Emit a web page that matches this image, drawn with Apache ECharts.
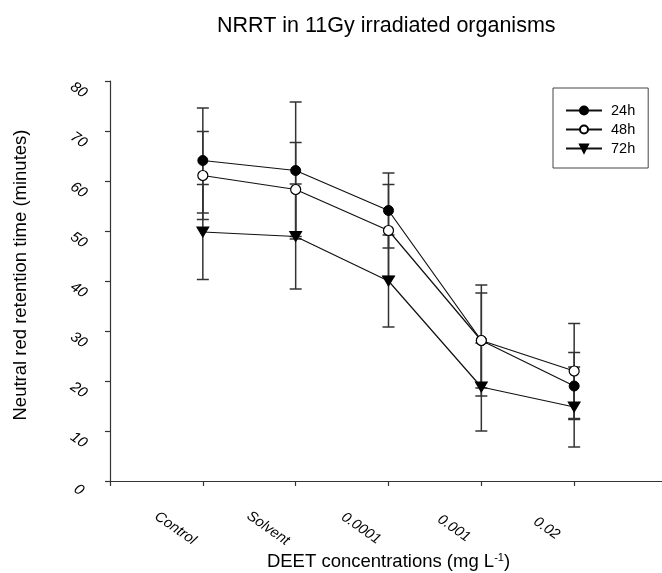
<!DOCTYPE html>
<html>
<head>
<meta charset="utf-8">
<script src="https://cdn.jsdelivr.net/npm/echarts@6/dist/echarts.min.js"></script>
<style>html,body{margin:0;padding:0;background:#fff}#c{width:662px;height:573px}</style>
</head>
<body>
<div id="c"></div>
<script>
const categories = ['Control', 'Solvent', '0.0001', '0.001', '0.02'];
const seriesNames = ['24h', '48h', '72h'];
const mean24 = [64.1, 62.1, 54.1, 28.1, 19.0];
const err24  = [10.5, 13.7, 7.5, 11.1, 6.7];
const mean48 = [61.1, 58.3, 50.1, 28.1, 22.0];
const err48  = [8.8, 9.4, 9.2, 9.5, 9.5];
const mean72 = [49.8, 48.9, 40.0, 18.8, 14.8];
const err72  = [9.5, 10.5, 9.2, 8.8, 8.0];
const yTicks = [0, 10, 20, 30, 40, 50, 60, 70, 80];

const FONT = 'Liberation Sans, Arial, sans-serif';
const AX = '#333';

function pts(means) { return means.map((v, i) => [i + 1, v]); }
function bars(means, errs) { return means.map((v, i) => [i + 1, v, errs[i]]); }

function errRender(params, api) {
  const x = api.value(0), m = api.value(1), e = api.value(2);
  const top = api.coord([x, m + e]);
  const bot = api.coord([x, m - e]);
  const hw = 6;
  const st = { stroke: AX, lineWidth: 1.5 };
  return {
    type: 'group',
    children: [
      { type: 'line', shape: { x1: top[0], y1: top[1], x2: bot[0], y2: bot[1] }, style: st },
      { type: 'line', shape: { x1: top[0] - hw, y1: top[1], x2: top[0] + hw, y2: top[1] }, style: st },
      { type: 'line', shape: { x1: bot[0] - hw, y1: bot[1], x2: bot[0] + hw, y2: bot[1] }, style: st }
    ]
  };
}

const chart = echarts.init(document.getElementById('c'), null, { renderer: 'canvas' });
const lineCommon = { type: 'line', z: 5, lineStyle: { color: '#111', width: 1.2 }, emphasis: { disabled: true } };

chart.setOption({
  animation: false,
  backgroundColor: '#fff',
  title: {
    text: 'NRRT in 11Gy irradiated organisms',
    left: 212, top: 10,
    textStyle: { fontFamily: FONT, fontSize: 21.5, fontWeight: 'normal', color: '#000' }
  },
  legend: {
    data: seriesNames,
    orient: 'vertical',
    left: 553, top: 88,
    borderColor: '#444', borderWidth: 1,
    padding: [15, 13, 12, 12],
    itemWidth: 36, itemHeight: 10, itemGap: 4,
    textStyle: { fontFamily: FONT, fontSize: 14.5, color: '#000', padding: [0, 0, 0, 4] }
  },
  grid: { left: 110, right: -5, top: 81, bottom: 92, containLabel: false, outerBoundsMode: 'none' },
  xAxis: {
    type: 'value', min: 0, max: 6, interval: 1,
    splitLine: { show: false },
    axisLine: { lineStyle: { color: AX, width: 1.2 } },
    axisTick: { inside: false, length: 5, lineStyle: { color: AX, width: 1.2 } },
    axisLabel: {
      formatter: v => (v >= 1 && v <= categories.length && Number.isInteger(v)) ? categories[v - 1] : '',
      rotate: -35, align: 'center', verticalAlign: 'top', margin: 8, lineHeight: 96,
      fontFamily: FONT, fontSize: 14.5, fontStyle: 'italic', color: '#000'
    },
    name: 'DEET concentrations (mg L{sup|-1})',
    nameLocation: 'middle', nameGap: 71, nameMoveOverlap: false,
    nameTextStyle: {
      fontFamily: FONT, fontSize: 18.5, color: '#000',
      rich: { sup: { fontFamily: FONT, fontSize: 11, verticalAlign: 'top', padding: [0, 0, 8, 0], color: '#000' } }
    }
  },
  yAxis: {
    type: 'value', min: yTicks[0], max: yTicks[yTicks.length - 1], interval: 10,
    splitLine: { show: false },
    axisLine: { show: true, lineStyle: { color: AX, width: 1.2 } },
    axisTick: { show: true, length: 5, lineStyle: { color: AX, width: 1.2 } },
    axisLabel: {
      rotate: -35, margin: 25, align: 'center', verticalAlign: 'top', lineHeight: 22,
      fontFamily: FONT, fontSize: 15, fontStyle: 'italic', color: '#000'
    },
    name: 'Neutral red retention time (minutes)',
    nameLocation: 'middle', nameGap: 80, nameRotate: 90, nameMoveOverlap: false,
    nameTextStyle: { fontFamily: FONT, fontSize: 18.5, color: '#000', padding: [0, 0, 0, 12] }
  },
  series: [
    { type: 'custom', name: 'err24', renderItem: errRender, data: bars(mean24, err24), z: 2, silent: true },
    { type: 'custom', name: 'err48', renderItem: errRender, data: bars(mean48, err48), z: 2, silent: true },
    { type: 'custom', name: 'err72', renderItem: errRender, data: bars(mean72, err72), z: 2, silent: true },
    Object.assign({}, lineCommon, {
      name: '24h', data: pts(mean24), symbol: 'circle', symbolSize: 10,
      itemStyle: { color: '#000', borderColor: '#000', borderWidth: 1 }
    }),
    Object.assign({}, lineCommon, {
      name: '48h', data: pts(mean48), symbol: 'circle', symbolSize: 10,
      itemStyle: { color: '#fff', borderColor: '#000', borderWidth: 1.2 }
    }),
    Object.assign({}, lineCommon, {
      name: '72h', data: pts(mean72), symbol: 'triangle', symbolSize: [12, 10], symbolRotate: 180,
      itemStyle: { color: '#000', borderColor: '#000', borderWidth: 1 }
    })
  ]
});
</script>
</body>
</html>
